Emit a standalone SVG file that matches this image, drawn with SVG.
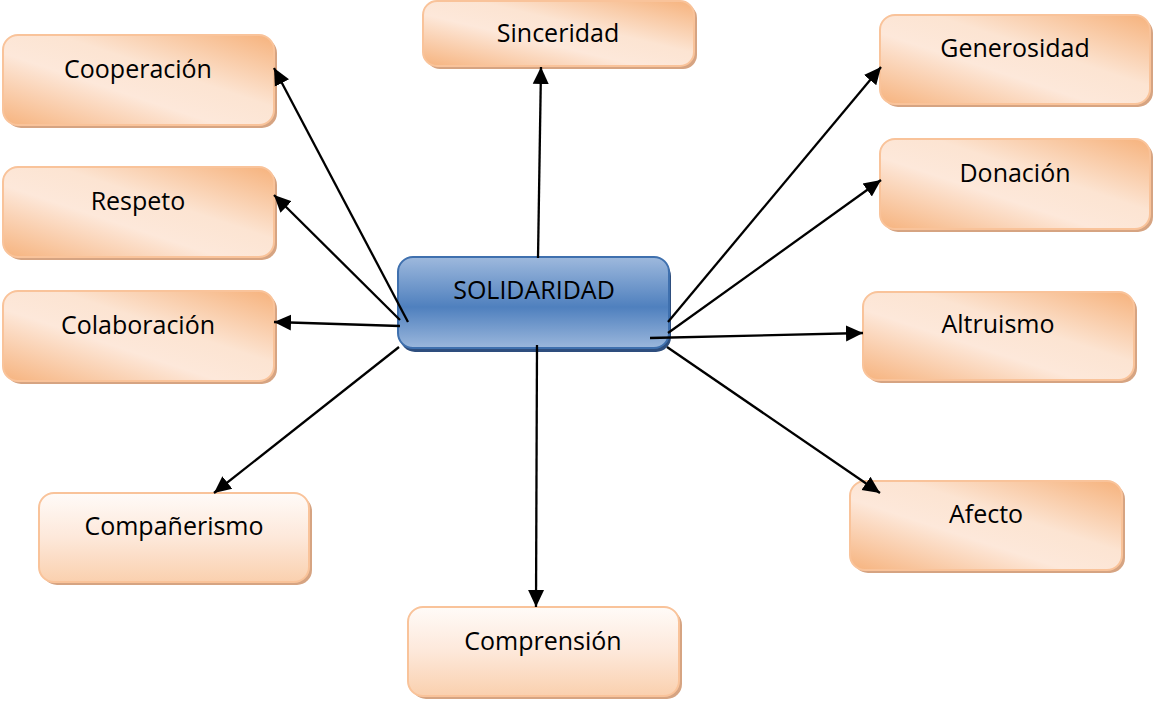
<svg xmlns="http://www.w3.org/2000/svg" width="1153" height="704" viewBox="0 0 1153 704">
<defs>
<linearGradient id="gDiag" x1="1" y1="0" x2="0" y2="1">
<stop offset="0" stop-color="#F6B27C"/>
<stop offset="0.4" stop-color="#FCE4D2"/>
<stop offset="0.6" stop-color="#FDE8DA"/>
<stop offset="1" stop-color="#F6B37E"/>
</linearGradient>
<linearGradient id="gVert" x1="0" y1="0" x2="0" y2="1">
<stop offset="0" stop-color="#FFFBF8"/>
<stop offset="0.5" stop-color="#FDE8DA"/>
<stop offset="1" stop-color="#FAD0AE"/>
</linearGradient>
<linearGradient id="gBlue" x1="0" y1="0" x2="0" y2="1">
<stop offset="0" stop-color="#9EB9DD"/>
<stop offset="0.55" stop-color="#4F80BE"/>
<stop offset="1" stop-color="#9BB7DC"/>
</linearGradient>
<marker id="arr" markerUnits="userSpaceOnUse" markerWidth="18" markerHeight="18" refX="17" refY="9" orient="auto">
<path d="M0,1 L17,9 L0,17 z" fill="#000"/>
</marker>
</defs>
<style>
.sh{fill:#D6A482}
.box{fill:url(#gDiag);stroke:#F9C39A;stroke-width:2}
.boxv{fill:url(#gVert);stroke:#F9C39A;stroke-width:2}
.bsh{fill:#2E4E7E}
.bbox{fill:url(#gBlue);stroke:#3F70AE;stroke-width:2}
text{font-family:"Open Sans","DejaVu Sans",sans-serif;font-size:25px;fill:#000;text-anchor:middle}
.c{stroke:#000;stroke-width:2.3;fill:none;marker-end:url(#arr)}
</style>

<g id="n-cooperacion">
<rect class="sh" x="6" y="38" width="271" height="90" rx="15"/>
<rect class="box" x="3" y="35" width="271" height="90" rx="15"/>
<text x="138" y="78">Cooperación</text>
</g>
<g id="n-respeto">
<rect class="sh" x="6" y="170" width="271" height="90" rx="15"/>
<rect class="box" x="3" y="167" width="271" height="90" rx="15"/>
<text x="138" y="210">Respeto</text>
</g>
<g id="n-colaboracion">
<rect class="sh" x="6" y="294" width="271" height="90" rx="15"/>
<rect class="box" x="3" y="291" width="271" height="90" rx="15"/>
<text x="138" y="334">Colaboración</text>
</g>
<g id="n-companerismo">
<rect class="sh" x="42" y="496" width="270" height="89" rx="15"/>
<rect class="boxv" x="39" y="493" width="270" height="89" rx="15"/>
<text x="174" y="535">Compañerismo</text>
</g>
<g id="n-comprension">
<rect class="sh" x="411" y="610" width="271" height="89" rx="15"/>
<rect class="boxv" x="408" y="607" width="271" height="89" rx="15"/>
<text x="543" y="650">Comprensión</text>
</g>
<g id="n-sinceridad">
<rect class="sh" x="426" y="4" width="271" height="65" rx="14"/>
<rect class="box" x="423" y="1" width="271" height="65" rx="14"/>
<text x="558" y="42">Sinceridad</text>
</g>
<g id="n-generosidad">
<rect class="sh" x="883" y="18" width="270" height="89" rx="15"/>
<rect class="box" x="880" y="15" width="270" height="89" rx="15"/>
<text x="1015" y="57">Generosidad</text>
</g>
<g id="n-donacion">
<rect class="sh" x="883" y="142" width="270" height="90" rx="15"/>
<rect class="box" x="880" y="139" width="270" height="90" rx="15"/>
<text x="1015" y="182">Donación</text>
</g>
<g id="n-altruismo">
<rect class="sh" x="866" y="295" width="271" height="88" rx="15"/>
<rect class="box" x="863" y="292" width="271" height="88" rx="15"/>
<text x="998" y="333">Altruismo</text>
</g>
<g id="n-afecto">
<rect class="sh" x="853" y="484" width="272" height="89" rx="15"/>
<rect class="box" x="850" y="481" width="272" height="89" rx="15"/>
<text x="986" y="523">Afecto</text>
</g>
<g id="n-solidaridad">
<rect class="bsh" x="400" y="261" width="271" height="91" rx="15"/>
<rect class="bbox" x="398" y="257" width="271" height="91" rx="15"/>
<text x="534" y="299">SOLIDARIDAD</text>
</g>

<g id="connectors">
<line class="c" x1="538" y1="258" x2="541" y2="67"/>
<line class="c" x1="408" y1="322" x2="274" y2="68"/>
<line class="c" x1="400" y1="320" x2="274" y2="195"/>
<line class="c" x1="400" y1="326" x2="274" y2="322"/>
<line class="c" x1="399" y1="347" x2="214" y2="493"/>
<line class="c" x1="537" y1="345" x2="536" y2="607"/>
<line class="c" x1="668" y1="322" x2="881" y2="67"/>
<line class="c" x1="668" y1="333" x2="881" y2="180"/>
<line class="c" x1="650" y1="338" x2="863" y2="333"/>
<line class="c" x1="667" y1="347" x2="880" y2="493"/>
</g>
</svg>
